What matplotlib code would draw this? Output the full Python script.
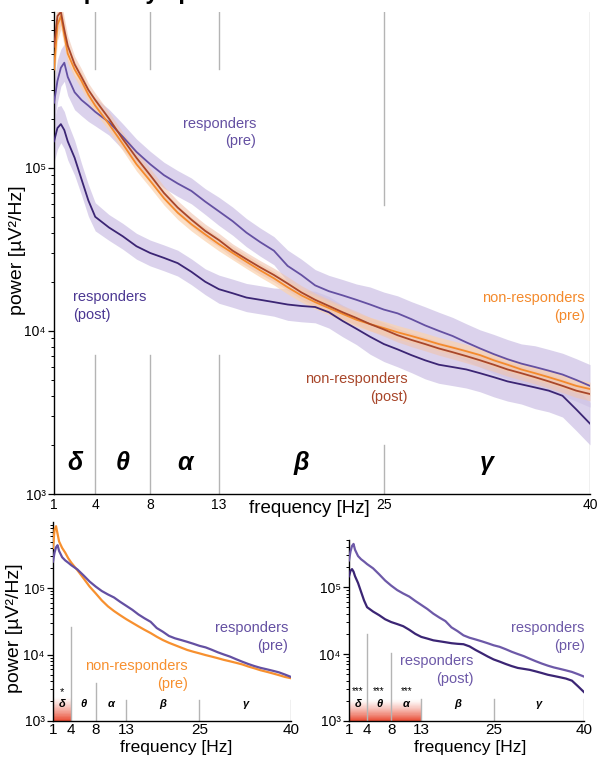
import numpy as np
import matplotlib.pyplot as plt

plt.rcParams['font.family'] = ['Liberation Sans', 'DejaVu Sans']

# frequency grid (Hz) and spectra (power in uV^2/Hz)
freq = [1, 1.25, 1.5, 1.75, 2, 2.5, 3, 3.5, 4, 5, 6, 7, 8, 9, 10, 11, 12, 13, 14,
        15, 16, 17, 18, 19, 20, 21, 22, 23, 24, 25, 26, 27, 28, 29, 30, 31, 32,
        33, 34, 35, 36, 37, 38, 39, 40]

resp_pre = [2.5e5, 3.4e5, 4.1e5, 4.4e5, 3.6e5, 2.9e5, 2.6e5, 2.4e5, 2.2e5, 1.9e5,
            1.55e5, 1.25e5, 1.05e5, 9.0e4, 8.0e4, 7.2e4, 6.2e4, 5.4e4, 4.7e4,
            4.0e4, 3.5e4, 3.1e4, 2.5e4, 2.2e4, 1.9e4, 1.75e4, 1.65e4, 1.55e4,
            1.45e4, 1.35e4, 1.28e4, 1.18e4, 1.08e4, 1.0e4, 9.3e3, 8.5e3, 7.8e3,
            7.2e3, 6.7e3, 6.3e3, 6.0e3, 5.7e3, 5.4e3, 5.0e3, 4.6e3]

resp_post = [1.45e5, 1.75e5, 1.85e5, 1.7e5, 1.45e5, 1.15e5, 8.5e4, 6.3e4, 5.0e4,
             4.3e4, 3.8e4, 3.3e4, 3.0e4, 2.8e4, 2.6e4, 2.3e4, 2.0e4, 1.8e4,
             1.7e4, 1.6e4, 1.55e4, 1.5e4, 1.45e4, 1.42e4, 1.4e4, 1.3e4, 1.15e4,
             1.03e4, 9.2e3, 8.3e3, 7.7e3, 7.1e3, 6.6e3, 6.2e3, 6.0e3, 5.8e3,
             5.5e3, 5.2e3, 4.9e3, 4.7e3, 4.5e3, 4.3e3, 4.0e3, 3.3e3, 2.7e3]

nonresp_pre = [4.0e5, 7.5e5, 8.5e5, 6.5e5, 5.0e5, 4.0e5, 3.4e5, 2.8e5, 2.4e5,
               1.85e5, 1.4e5, 1.05e5, 8.3e4, 6.5e4, 5.3e4, 4.5e4, 3.9e4, 3.4e4,
               3.0e4, 2.65e4, 2.35e4, 2.1e4, 1.85e4, 1.65e4, 1.5e4, 1.38e4,
               1.27e4, 1.17e4, 1.1e4, 1.04e4, 9.8e3, 9.3e3, 8.8e3, 8.3e3, 7.9e3,
               7.5e3, 7.1e3, 6.6e3, 6.2e3, 5.8e3, 5.5e3, 5.2e3, 4.9e3, 4.6e3, 4.4e3]

nonresp_post = [5.5e5, 8.5e5, 9.0e5, 7.0e5, 5.6e5, 4.3e5, 3.6e5, 3.0e5, 2.6e5,
                2.0e5, 1.5e5, 1.15e5, 9.0e4, 7.0e4, 5.7e4, 4.8e4, 4.1e4, 3.6e4,
                3.1e4, 2.75e4, 2.45e4, 2.2e4, 1.95e4, 1.72e4, 1.55e4, 1.42e4,
                1.3e4, 1.2e4, 1.1e4, 1.02e4, 9.4e3, 8.8e3, 8.3e3, 7.8e3, 7.4e3,
                7.0e3, 6.6e3, 6.2e3, 5.8e3, 5.5e3, 5.2e3, 4.9e3, 4.6e3, 4.3e3, 4.1e3]

# spread of the shaded error bands (multiplicative)
resp_band = [1.35, 1.35, 1.3, 1.3, 1.3, 1.28, 1.25, 1.25, 1.22, 1.2, 1.2, 1.2,
             1.2, 1.2, 1.2, 1.2, 1.2, 1.22, 1.22, 1.22, 1.22, 1.22, 1.25, 1.25,
             1.25, 1.25, 1.25, 1.25, 1.28, 1.28, 1.28, 1.28, 1.3, 1.3, 1.3, 1.3,
             1.3, 1.32, 1.32, 1.32, 1.35, 1.35, 1.35, 1.35, 1.35]
nonresp_band = [1.25, 1.25, 1.2, 1.18, 1.15, 1.12, 1.12, 1.1, 1.1, 1.1, 1.1, 1.1,
                1.1, 1.1, 1.1, 1.1, 1.1, 1.1, 1.1, 1.1, 1.1, 1.1, 1.1, 1.1, 1.1,
                1.1, 1.1, 1.1, 1.1, 1.1, 1.1, 1.1, 1.1, 1.1, 1.1, 1.1, 1.1, 1.1,
                1.1, 1.1, 1.1, 1.1, 1.1, 1.1, 1.1]

band_edges = [1, 4, 8, 13, 25, 40]
band_names = ['δ', 'θ', 'α', 'β', 'γ']
sig_pre = ['*', '', '', '', '']          # responders vs non-responders (pre)
sig_resp = ['***', '***', '***', '', '']  # responders pre vs post

C_RESP_PRE = '#6450a2'
C_RESP_POST = '#3b2574'
C_NON_PRE = '#f48a2c'
C_NON_POST = '#a8462a'
GREY = '#b4b4b4'

f = np.array(freq)


def style_axes(ax, ymax, xtick_size, ytick_size, xpad):
    ax.set_yscale('log')
    ax.set_xlim(1, 40)
    ax.set_ylim(1e3, ymax)
    for s in ['top', 'right']:
        ax.spines[s].set_visible(False)
    ax.spines['left'].set_linewidth(1.0)
    ax.spines['bottom'].set_linewidth(1.0)
    ax.set_xticks(band_edges)
    ax.set_xticklabels([str(e) for e in band_edges], fontsize=xtick_size)
    ax.set_yticks([1e3, 1e4, 1e5])
    ax.set_yticklabels(['10³', '10⁴', '10⁵'], fontsize=ytick_size)
    ax.tick_params(axis='x', length=0, pad=xpad)
    ax.tick_params(axis='y', which='major', length=4, width=0.9, pad=2)
    ax.tick_params(axis='y', which='minor', length=2.5, width=0.7)
    ax.patch.set_alpha(0)


def gradient(ax, x0, x1, y0, y1, n=40):
    lev = np.geomspace(y0, y1, n + 1)
    for i in range(n):
        ax.fill_between([x0, x1], lev[i], lev[i + 1], color='#e8432a',
                        alpha=0.95 * (1 - i / n) ** 1.3, lw=0, zorder=1)


def band_labels(ax, y_name, y_sig, size, sig, sig_size):
    for i, name in enumerate(band_names):
        xc = (band_edges[i] + band_edges[i + 1]) / 2
        ax.text(xc, y_name, name, ha='center', va='center', fontsize=size,
                fontweight='bold', style='italic', zorder=6)
        if sig and sig[i]:
            ax.text(xc, y_sig, sig[i], ha='center', va='center',
                    fontsize=sig_size, zorder=6)


fig = plt.figure(figsize=(6, 7.59), dpi=100)

# ---------------- main panel ----------------
ax = fig.add_axes([54 / 600, 1 - 494 / 759, 536 / 600, 482 / 759])
style_axes(ax, 9e5, 10, 10, 3)

# band separators (split around the curves)
for e in [4, 8, 13]:
    ax.plot([e, e], [4.0e5, 9e5], color=GREY, lw=1, zorder=1)
    ax.plot([e, e], [1e3, 7.1e3], color=GREY, lw=1, zorder=1)
ax.plot([25, 25], [5.9e4, 9e5], color=GREY, lw=1, zorder=1)
ax.plot([25, 25], [1e3, 2.0e3], color=GREY, lw=1, zorder=1)
ax.plot([40, 40], [1e3, 9e5], color=GREY, lw=1, zorder=1)

series = [(resp_pre, resp_band, C_RESP_PRE, '#cfc4e6', 0.75),
          (resp_post, resp_band, C_RESP_POST, '#cfc4e6', 0.75),
          (nonresp_pre, nonresp_band, C_NON_PRE, '#fbd2ad', 0.7),
          (nonresp_post, nonresp_band, C_NON_POST, '#f0c4ae', 0.6)]
for vals, bnd, col, fcol, a in series:
    v = np.array(vals)
    b = np.array(bnd)
    ax.fill_between(f, v / b, v * b, color=fcol, alpha=a, lw=0, zorder=2)
for vals, bnd, col, fcol, a in series:
    ax.plot(f, vals, color=col, lw=1.3, zorder=3)

band_labels(ax, 1.55e3, None, 18, None, 0)

ax.text(15.7, 1.65e5, 'responders\n(pre)', color=C_RESP_PRE, ha='right',
        va='center', multialignment='right', fontsize=10.5, linespacing=1.3)
ax.text(2.4, 1.42e4, 'responders\n(post)', color='#4b3792', ha='left',
        va='center', multialignment='left', fontsize=10.5, linespacing=1.3)
ax.text(39.6, 1.4e4, 'non-responders\n(pre)', color=C_NON_PRE, ha='right',
        va='center', multialignment='right', fontsize=10.5, linespacing=1.3)
ax.text(26.7, 4.46e3, 'non-responders\n(post)', color=C_NON_POST, ha='right',
        va='center', multialignment='right', fontsize=10.5, linespacing=1.3)

ax.set_xlabel('frequency [Hz]', fontsize=13.5)
ax.xaxis.set_label_coords(0.476, -0.012)
fig.text(18 / 600, 1 - 250 / 759, 'power [µV²/Hz]', rotation=90,
         ha='center', va='center', fontsize=14)
fig.text(39 / 600, 1 + 1 / 759, 'Frequency spectra', fontsize=17,
         fontweight='bold', ha='left', va='baseline')

# ---------------- bottom left: responders vs non-responders (pre) ----------------
axl = fig.add_axes([53 / 600, 1 - 721 / 759, 238 / 600, 199.5 / 759])
style_axes(axl, 1e6, 11, 10, 1.5)
gradient(axl, 1, 4, 1e3, 2.3e3)
for e, top in zip([4, 8, 13, 25, 40], [2.6e4, 3.7e3, 2.1e3, 2.1e3, 2.1e3]):
    axl.plot([e, e], [1e3, top], color=GREY, lw=1, zorder=2)
axl.plot(f, nonresp_pre, color='#f7902f', lw=1.6, zorder=3)
axl.plot(f, resp_pre, color=C_RESP_PRE, lw=1.6, zorder=4)
band_labels(axl, 1.8e3, 2.75e3, 8, sig_pre, 8)
axl.text(39.5, 1.83e4, 'responders\n(pre)', color=C_RESP_PRE, ha='right',
         va='center', multialignment='right', fontsize=10.5, linespacing=1.3)
axl.text(23.1, 4.9e3, 'non-responders\n(pre)', color='#f7902f', ha='right',
         va='center', multialignment='right', fontsize=10.5, linespacing=1.3)
axl.set_xlabel('frequency [Hz]', fontsize=12.5)
axl.xaxis.set_label_coords(0.517, -0.096)
fig.text(15 / 600, 1 - 628 / 759, 'power [µV²/Hz]', rotation=90,
         ha='center', va='center', fontsize=14)

# ---------------- bottom right: responders pre vs post ----------------
axr = fig.add_axes([349 / 600, 1 - 721 / 759, 235 / 600, 180.8 / 759])
style_axes(axr, 5e5, 11, 10, 1.5)
gradient(axr, 1, 13, 1e3, 2.1e3)
for e, top in zip([4, 8, 13, 25, 40], [2.0e4, 1.03e4, 2.1e3, 2.1e3, 2.1e3]):
    axr.plot([e, e], [1e3, top], color=GREY, lw=1, zorder=2)
axr.plot(f, resp_post, color=C_RESP_POST, lw=1.6, zorder=3)
axr.plot(f, resp_pre, color='#6d59a8', lw=1.6, zorder=4)
band_labels(axr, 1.8e3, 2.75e3, 8, sig_resp, 7)
axr.text(40.1, 1.8e4, 'responders\n(pre)', color='#6d59a8', ha='right',
         va='center', multialignment='right', fontsize=10.5, linespacing=1.3)
axr.text(21.6, 5.77e3, 'responders\n(post)', color='#6d59a8', ha='right',
         va='center', multialignment='right', fontsize=10.5, linespacing=1.3)
axr.set_xlabel('frequency [Hz]', fontsize=12.5)
axr.xaxis.set_label_coords(0.515, -0.106)

fig.savefig('out.png', dpi=100, facecolor='white')
